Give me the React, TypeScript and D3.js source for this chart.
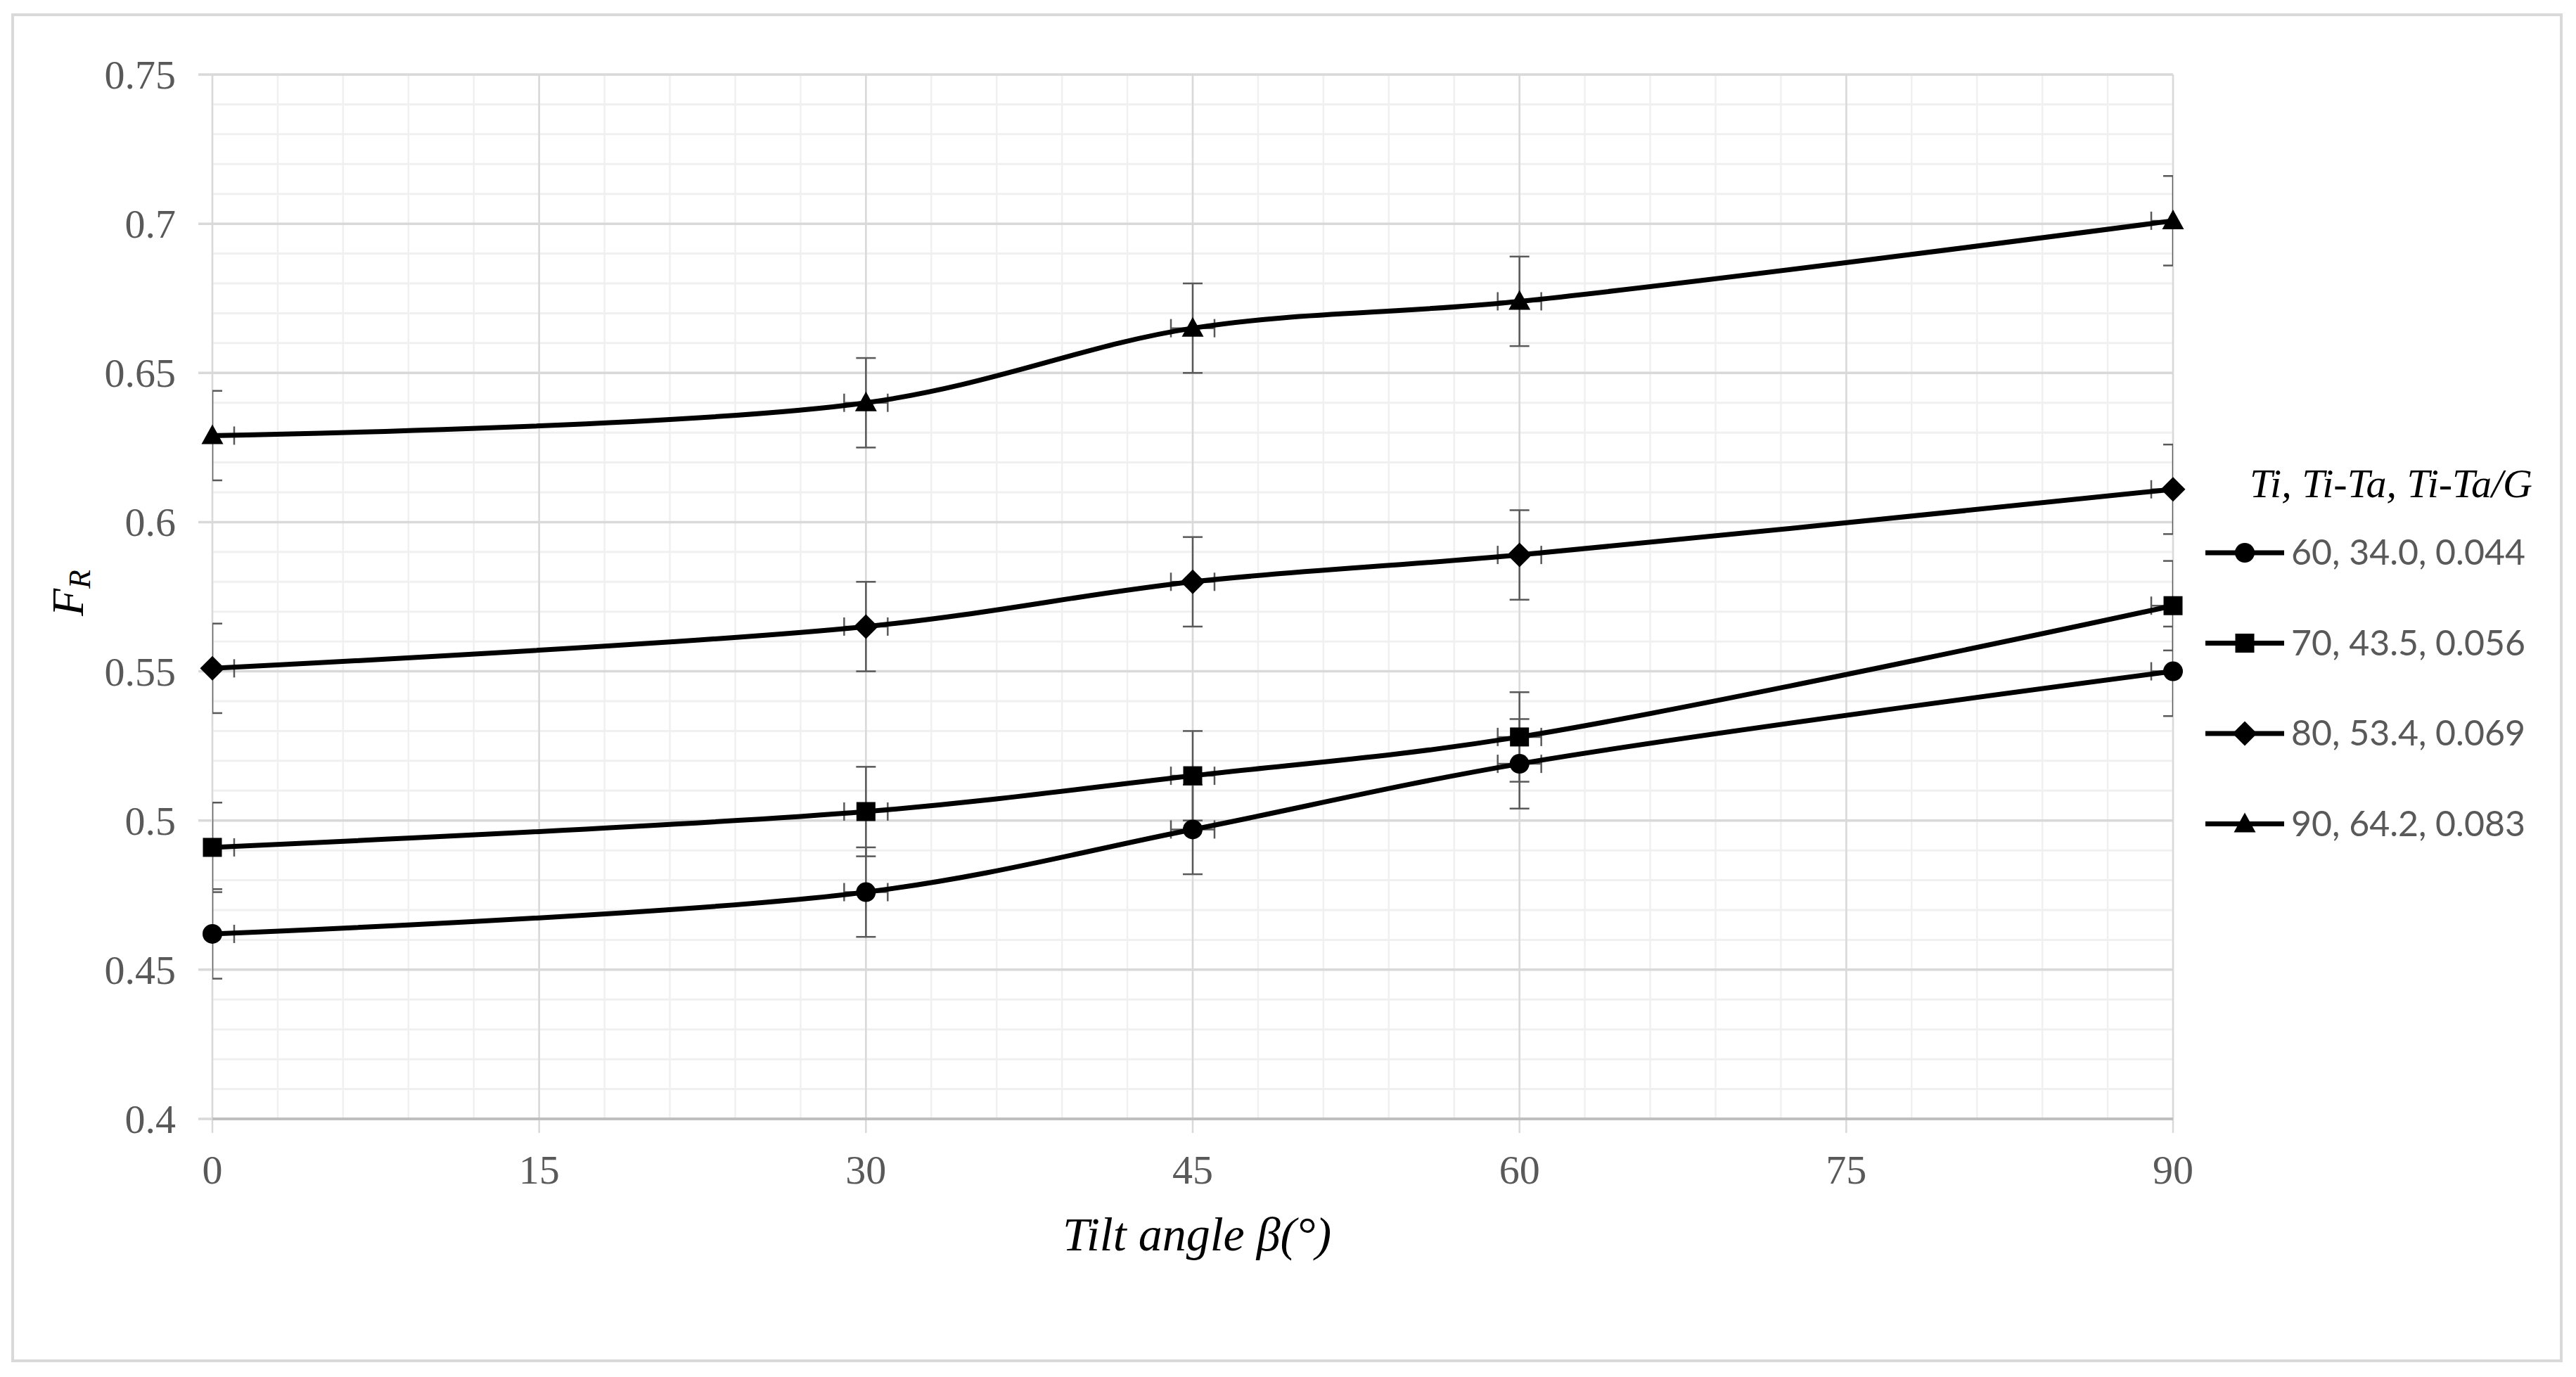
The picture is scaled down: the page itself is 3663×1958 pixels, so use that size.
import React, { useRef, useEffect } from 'react';
import * as d3 from 'd3';

// tilt angles (x) and the four series (Ti, Ti-Ta, Ti-Ta/G)
const angles = [0, 30, 45, 60, 90];
const seriesLabels = ['60, 34.0, 0.044', '70, 43.5, 0.056', '80, 53.4, 0.069', '90, 64.2, 0.083'];
const seriesShapes = ['circle', 'square', 'diamond', 'triangle'];
const frTi60 = [0.462, 0.476, 0.497, 0.519, 0.550];
const frTi70 = [0.491, 0.503, 0.515, 0.528, 0.572];
const frTi80 = [0.551, 0.565, 0.580, 0.589, 0.611];
const frTi90 = [0.629, 0.640, 0.665, 0.674, 0.701];
const yError = 0.015;
const xError = 1;

const xTicks = [0, 15, 30, 45, 60, 75, 90];
const yTicks = [0.4, 0.45, 0.5, 0.55, 0.6, 0.65, 0.7, 0.75];

const W = 3663;
const H = 1958;

const markerPath = (shape, cx, cy) => {
  if (shape === 'circle') {
    const r = 14;
    return `M${cx - r},${cy}a${r},${r} 0 1,0 ${2 * r},0a${r},${r} 0 1,0 ${-2 * r},0Z`;
  }
  if (shape === 'square') {
    const s = 13.5;
    return `M${cx - s},${cy - s}h${2 * s}v${2 * s}h${-2 * s}Z`;
  }
  if (shape === 'diamond') {
    const d = 17.5;
    return `M${cx},${cy - d}L${cx + d},${cy}L${cx},${cy + d}L${cx - d},${cy}Z`;
  }
  // triangle
  const w = 15.5;
  return `M${cx},${cy - 16}L${cx + w},${cy + 12}L${cx - w},${cy + 12}Z`;
};

const App = () => {
  const svgRef = useRef(null);

  useEffect(() => {
    const svg = d3.select(svgRef.current);
    svg.selectAll('*').remove();

    const left = 302, right = 3090, top = 106, bottom = 1591;

    const x = d3.scaleLinear().domain([0, 90]).range([left, right]);
    const y = d3.scaleLinear().domain([0.4, 0.75]).range([bottom, top]);

    // chart border
    svg.append('rect')
      .attr('x', 18).attr('y', 21)
      .attr('width', 3624).attr('height', 1914)
      .attr('fill', '#fff')
      .attr('stroke', '#d9d9d9')
      .attr('stroke-width', 4);

    svg.append('defs').append('clipPath').attr('id', 'plot-clip')
      .append('rect')
      .attr('x', left).attr('y', top - 40)
      .attr('width', right - left).attr('height', bottom - top + 80);

    const grid = svg.append('g');

    // minor grid
    d3.range(0.4, 0.7501, 0.01).forEach(v => {
      grid.append('line')
        .attr('x1', left).attr('x2', right)
        .attr('y1', y(v)).attr('y2', y(v))
        .attr('stroke', '#f0f0f0').attr('stroke-width', 3);
    });
    d3.range(0, 90.01, 3).forEach(v => {
      grid.append('line')
        .attr('x1', x(v)).attr('x2', x(v))
        .attr('y1', top).attr('y2', bottom)
        .attr('stroke', '#f0f0f0').attr('stroke-width', 2.5);
    });

    // major grid
    yTicks.forEach(v => {
      grid.append('line')
        .attr('x1', left - 20).attr('x2', right)
        .attr('y1', y(v)).attr('y2', y(v))
        .attr('stroke', '#d9d9d9').attr('stroke-width', 3.5);
    });
    xTicks.forEach(v => {
      grid.append('line')
        .attr('x1', x(v)).attr('x2', x(v))
        .attr('y1', top).attr('y2', bottom + 20)
        .attr('stroke', '#d9d9d9').attr('stroke-width', 2.5);
    });

    // x axis line
    grid.append('line')
      .attr('x1', left).attr('x2', right)
      .attr('y1', bottom).attr('y2', bottom)
      .attr('stroke', '#bfbfbf').attr('stroke-width', 4);

    // tick labels
    svg.append('g').selectAll('text')
      .data(yTicks)
      .enter().append('text')
      .attr('x', 250)
      .attr('y', d => y(d) + 20)
      .attr('text-anchor', 'end')
      .attr('font-family', 'Liberation Serif')
      .attr('font-size', 58)
      .attr('fill', '#595959')
      .text(d => String(d));

    svg.append('g').selectAll('text')
      .data(xTicks)
      .enter().append('text')
      .attr('x', d => x(d))
      .attr('y', 1683)
      .attr('text-anchor', 'middle')
      .attr('font-family', 'Liberation Serif')
      .attr('font-size', 58)
      .attr('fill', '#595959')
      .text(d => String(d));

    // axis titles
    svg.append('text')
      .attr('x', (left + right) / 2 + 6)
      .attr('y', 1778)
      .attr('text-anchor', 'middle')
      .attr('font-family', 'Liberation Serif')
      .attr('font-style', 'italic')
      .attr('font-size', 68)
      .attr('fill', '#000')
      .text('Tilt angle β(°)');

    const yTitle = svg.append('text')
      .attr('transform', 'translate(118,843) rotate(-90)')
      .attr('text-anchor', 'middle')
      .attr('font-family', 'Liberation Serif')
      .attr('font-style', 'italic')
      .attr('font-size', 64)
      .attr('fill', '#000');
    yTitle.append('tspan').text('F');
    yTitle.append('tspan').attr('font-size', 44).attr('dy', 10).text('R');

    const allSeries = [frTi60, frTi70, frTi80, frTi90];

    const line = d3.line()
      .x(d => x(d[0]))
      .y(d => y(d[1]))
      .curve(d3.curveCatmullRom.alpha(0.5));

    // error bars
    const err = svg.append('g').attr('clip-path', 'url(#plot-clip)')
      .attr('stroke', '#595959').attr('stroke-width', 2.5).attr('fill', 'none');
    allSeries.forEach(vals => {
      vals.forEach((v, i) => {
        const cx = x(angles[i]);
        const cy = y(v);
        err.append('line').attr('x1', cx).attr('x2', cx)
          .attr('y1', y(v + yError)).attr('y2', y(v - yError));
        [v + yError, v - yError].forEach(e => {
          err.append('line').attr('x1', cx - 14).attr('x2', cx + 14)
            .attr('y1', y(e)).attr('y2', y(e));
        });
        err.append('line').attr('x1', x(angles[i] - xError)).attr('x2', x(angles[i] + xError))
          .attr('y1', cy).attr('y2', cy);
        [angles[i] - xError, angles[i] + xError].forEach(e => {
          err.append('line').attr('x1', x(e)).attr('x2', x(e))
            .attr('y1', cy - 13).attr('y2', cy + 13);
        });
      });
    });

    // series lines and markers
    allSeries.forEach((vals, si) => {
      svg.append('path')
        .datum(vals.map((v, i) => [angles[i], v]))
        .attr('d', line)
        .attr('fill', 'none')
        .attr('stroke', '#000')
        .attr('stroke-width', 7)
        .attr('stroke-linejoin', 'round');

      svg.append('g').selectAll('path')
        .data(vals)
        .enter().append('path')
        .attr('d', (d, i) => markerPath(seriesShapes[si], x(angles[i]), y(d)))
        .attr('fill', '#000');
    });

    // legend
    const legend = svg.append('g');
    legend.append('text')
      .attr('x', 3601)
      .attr('y', 707)
      .attr('text-anchor', 'end')
      .attr('font-family', 'Liberation Serif')
      .attr('font-style', 'italic')
      .attr('font-size', 58)
      .attr('fill', '#000')
      .text('Ti, Ti-Ta, Ti-Ta/G');

    seriesLabels.forEach((label, i) => {
      const ly = 786 + i * 128.5;
      legend.append('line')
        .attr('x1', 3136).attr('x2', 3248)
        .attr('y1', ly).attr('y2', ly)
        .attr('stroke', '#000').attr('stroke-width', 7);
      legend.append('path')
        .attr('d', markerPath(seriesShapes[i], 3192, ly))
        .attr('fill', '#000');
      legend.append('text')
        .attr('x', 3258)
        .attr('y', ly + 17)
        .attr('font-family', 'Lato')
        .attr('font-size', 50)
        .attr('fill', '#595959')
        .text(label);
    });
  }, []);

  return (
    <svg
      ref={svgRef}
      width={W}
      height={H}
      style={{ position: 'absolute', left: 0, top: 0, background: '#fff' }}
    />
  );
};

export default App;
